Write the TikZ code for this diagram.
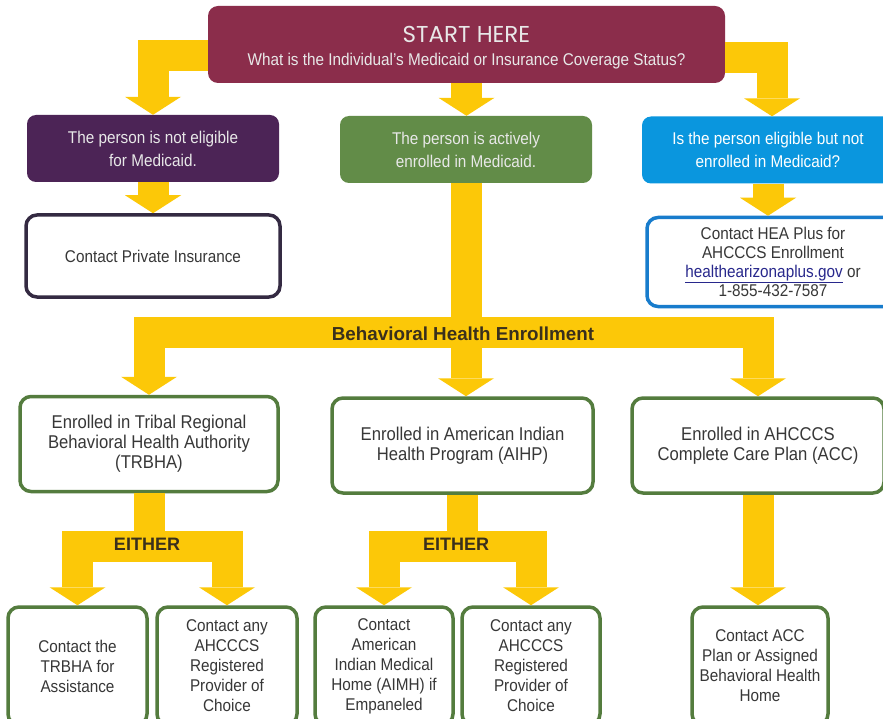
\documentclass[tikz,border=0pt]{standalone}
\usepackage{fontspec}
\setmainfont{Liberation Sans}[FakeStretch=0.9]
\newfontfamily\barfont{Liberation Sans}
\newfontfamily\startfont{Poppins}
\usetikzlibrary{arrows.meta}

\definecolor{startred}{RGB}{139,45,75}
\definecolor{notpurple}{RGB}{76,36,86}
\definecolor{actgreen}{RGB}{98,140,72}
\definecolor{eligblue}{RGB}{10,150,222}
\definecolor{flowyellow}{RGB}{252,200,8}
\definecolor{framegreen}{RGB}{84,124,62}
\definecolor{frameblue}{RGB}{24,124,204}
\definecolor{framepurple}{RGB}{52,42,66}
\definecolor{boxtext}{RGB}{55,55,55}
\definecolor{lighttext}{RGB}{232,232,232}
\definecolor{bartext}{RGB}{58,48,28}
\definecolor{linkblue}{RGB}{40,40,140}

\begin{document}
\begin{tikzpicture}[x=1pt,y=-1pt,
	colbox/.style={rounded corners=9pt, align=center, text=lighttext,
		minimum width=252pt, minimum height=67pt,
		font=\fontsize{17}{23}\selectfont},
	framebox/.style={draw, line width=3.5pt, rounded corners=11pt, fill=white,
		align=center, text=boxtext, font=\fontsize{17}{20}\selectfont},
	endbox/.style={framebox, draw=framegreen, minimum height=118pt},
	midbox/.style={framebox, draw=framegreen, minimum height=95pt,
		font=\fontsize{18.5}{20}\selectfont},
	flow/.style={draw=flowyellow, line width=31pt,
		-{Triangle[width=56pt,length=18pt,line width'=0pt]}},
	barlabel/.style={font=\barfont\bfseries\fontsize{18}{20}\selectfont, text=bartext}]

	\path[use as bounding box, fill=white] (0,0) rectangle (883,719);

	% start
	\node[fill=startred, rounded corners=10pt, minimum width=517pt, minimum height=77pt,
		text=lighttext, font=\fontsize{17}{23}\selectfont] (start) at (466.5,44.5)
		{\raisebox{-5pt}[\height][\depth]{\begin{tabular}{@{}c@{}}
		{\startfont\fontsize{23}{23}\selectfont START HERE}\\
		What is the Individual's Medicaid or Insurance Coverage Status?\end{tabular}}};

	% coverage status
	\node[colbox, fill=notpurple] (notelig) at (153,148.5) {The person is not eligible\\for Medicaid.};
	\node[colbox, fill=actgreen] (enrolled) at (466,149.5) {The person is actively\\enrolled in Medicaid.};
	\node[colbox, fill=eligblue, text=white] (elignot) at (768,150) {Is the person eligible but not\\enrolled in Medicaid?};

	\draw[flow] ([yshift=-11pt]start.west) -| (notelig.north);
	\draw[flow] (start.south) -- (start.south |- enrolled.north);
	\draw[flow] ([yshift=-13pt]start.east) -| ([xshift=4pt]elignot.north);

	% next step
	\node[framebox, draw=framepurple, minimum width=254pt, minimum height=82pt] (private) at (153,256)
		{Contact Private Insurance};
	\node[framebox, draw=frameblue, minimum width=252pt, minimum height=89pt,
		font=\fontsize{17}{19}\selectfont] (hea) at (773,262)
		{Contact HEA Plus for\\AHCCCS Enrollment\\\textcolor{linkblue}{\underline{healthearizonaplus.gov}} or\\1-855-432-7587};
	\draw[flow] (notelig.south) -- (notelig.south |- private.north);
	\draw[flow] (elignot.south) -- (elignot.south |- hea.north);

	% behavioral health enrollment
	\node[midbox, minimum width=258pt] (trbha) at (149,444)
		{Enrolled in Tribal Regional\\Behavioral Health Authority\\(TRBHA)};
	\node[midbox, minimum width=261pt] (aihp) at (462.5,445.5)
		{Enrolled in American Indian\\Health Program (AIHP)};
	\node[midbox, minimum width=252pt] (acc) at (758,445.5)
		{Enrolled in AHCCCS\\Complete Care Plan (ACC)};
	\coordinate (bhbar) at (466,332);
	\draw[flow] (enrolled.south) -- (enrolled.south |- aihp.north);
	\draw[flow] (bhbar) -| (trbha.north);
	\draw[flow] (bhbar) -| (acc.north);
	\node[barlabel, font=\barfont\bfseries\fontsize{18.8}{20}\selectfont] (bhlabel)
		at ([xshift=-3pt,yshift=-2pt]bhbar) {Behavioral Health Enrollment};

	% either
	\node[endbox, minimum width=139pt] (tcontact) at (77.5,666) {Contact the\\TRBHA for\\Assistance};
	\node[endbox, minimum width=140pt] (tany) at (227,666) {Contact any\\AHCCCS\\Registered\\Provider of\\Choice};
	\node[endbox, minimum width=138pt] (aimh) at (384,666) {Contact\\American\\Indian Medical\\Home (AIMH) if\\Empaneled};
	\node[endbox, minimum width=138pt] (aany) at (531,666) {Contact any\\AHCCCS\\Registered\\Provider of\\Choice};
	\node[endbox, minimum width=136pt] (acchome) at (760,666) {Contact ACC\\Plan or Assigned\\Behavioral Health\\Home};

	\coordinate (split1) at (149,546);
	\coordinate (split2) at (462.5,546);
	\draw[flow] (trbha.south) -- (split1) -| (tcontact.north);
	\draw[flow] (split1) -| (tany.north);
	\draw[flow] (aihp.south) -- (split2) -| (aimh.north);
	\draw[flow] (split2) -| (aany.north);
	\draw[flow] (acc.south) -- (acc.south |- acchome.north);
	\node[barlabel] (either1) at (147,544) {EITHER};
	\node[barlabel] (either2) at (456,544) {EITHER};

\end{tikzpicture}
\end{document}
